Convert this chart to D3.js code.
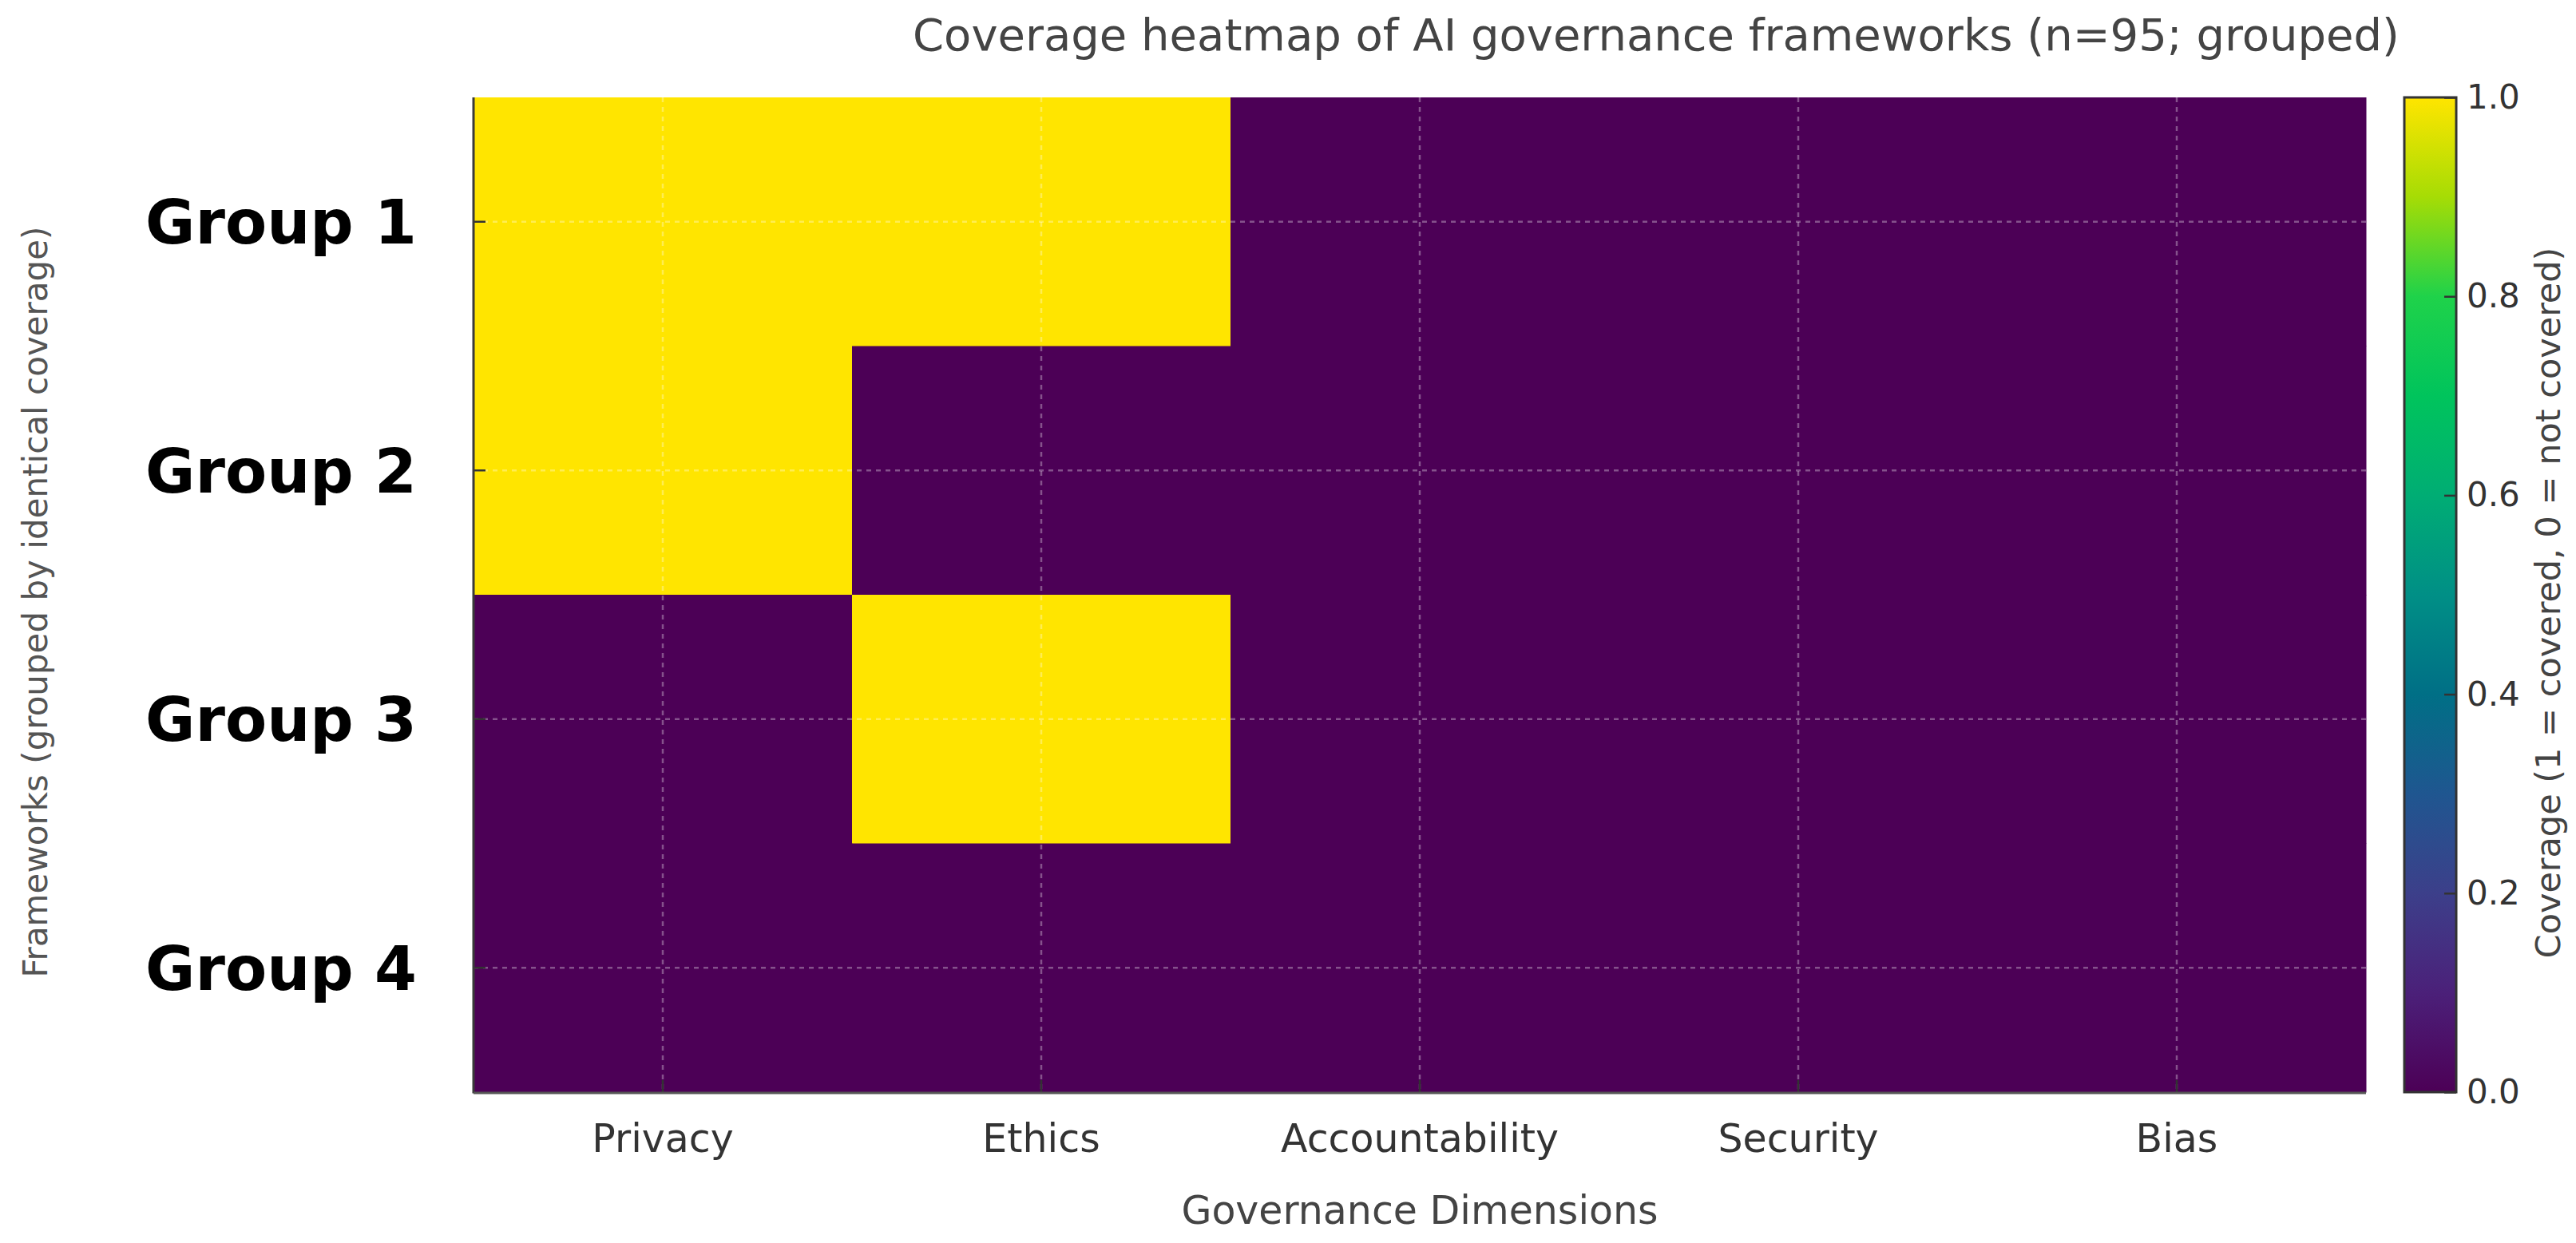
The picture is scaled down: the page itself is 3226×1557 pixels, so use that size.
<!DOCTYPE html>
<html>
<head>
<meta charset="utf-8">
<script src="https://cdn.jsdelivr.net/npm/d3@7"></script>
<style>
  html, body { margin: 0; padding: 0; background: #fff; }
  svg { display: block; font-family: "DejaVu Sans", sans-serif; }
</style>
</head>
<body>
<svg id="chart" width="3226" height="1557"></svg>
<script>
// ---- data ----
const groups = ["Group 1", "Group 2", "Group 3", "Group 4"];
const dimensions = ["Privacy", "Ethics", "Accountability", "Security", "Bias"];
const group1 = [1, 1, 0, 0, 0];
const group2 = [1, 0, 0, 0, 0];
const group3 = [0, 1, 0, 0, 0];
const group4 = [0, 0, 0, 0, 0];
const colorbarTicks = [0.0, 0.2, 0.4, 0.6, 0.8, 1.0];
const titleText = "Coverage heatmap of AI governance frameworks (n=95; grouped)";
const xLabelText = "Governance Dimensions";
const yLabelText = "Frameworks (grouped by identical coverage)";
const cbarLabelText = "Coverage (1 = covered, 0 = not covered)";

const rows = [group1, group2, group3, group4];
const cells = [];
rows.forEach((r, i) => r.forEach((v, j) => cells.push({ g: groups[i], d: dimensions[j], v })));

// ---- styling / layout ----
const W = 3226, H = 1557;
const plot = { left: 593, right: 2963, top: 122, bottom: 1368 };
const cbar = { left: 3011, right: 3076 };

// viridis-like palette as rendered in the reference
const paletteStops = ["#4c0056", "#4b2079", "#3c3f8a", "#1f5690", "#006f86", "#008f86",
                      "#00ad74", "#00c45c", "#1fd24a", "#a6dc05", "#ffe500"];
const color = d3.scaleLinear()
  .domain(paletteStops.map((_, i) => i / (paletteStops.length - 1)))
  .range(paletteStops)
  .interpolate(d3.interpolateRgb);

const svg = d3.select("#chart");
svg.append("rect").attr("width", W).attr("height", H).attr("fill", "#fff");

const x = d3.scaleBand().domain(dimensions).range([plot.left, plot.right]).padding(0);
const y = d3.scaleBand().domain(groups).range([plot.top, plot.bottom]).padding(0);

// cells
svg.append("g").selectAll("rect").data(cells).join("rect")
  .attr("x", d => x(d.d))
  .attr("y", d => y(d.g))
  .attr("width", x.bandwidth() + 0.5)
  .attr("height", y.bandwidth() + 0.5)
  .attr("fill", d => color(d.v));

// gridlines at tick centres
const grid = svg.append("g").attr("stroke", "#ffffff").attr("stroke-opacity", 0.32)
  .attr("stroke-width", 2.5).attr("stroke-dasharray", "6,6");
grid.selectAll("line.v").data(dimensions).join("line").attr("class", "v")
  .attr("x1", d => x(d) + x.bandwidth() / 2).attr("x2", d => x(d) + x.bandwidth() / 2)
  .attr("y1", plot.top).attr("y2", plot.bottom);
grid.selectAll("line.h").data(groups).join("line").attr("class", "h")
  .attr("y1", d => y(d) + y.bandwidth() / 2).attr("y2", d => y(d) + y.bandwidth() / 2)
  .attr("x1", plot.left).attr("x2", plot.right);

// x axis
const xAxis = svg.append("g").attr("transform", `translate(0,${plot.bottom})`)
  .call(d3.axisBottom(x).tickSizeInner(-15).tickSizeOuter(0).tickPadding(40));
xAxis.select(".domain").remove();
xAxis.selectAll(".tick line").attr("stroke", "#333").attr("stroke-width", 2.5);
xAxis.selectAll(".tick text").attr("font-size", 49).attr("fill", "#333")
  .attr("font-family", "DejaVu Sans");

// y axis
const yAxis = svg.append("g").attr("transform", `translate(${plot.left},0)`)
  .call(d3.axisLeft(y).tickSizeInner(-15).tickSizeOuter(0).tickPadding(71));
yAxis.select(".domain").remove();
yAxis.selectAll(".tick line").attr("stroke", "#333").attr("stroke-width", 2.5);
yAxis.selectAll(".tick text").attr("font-size", 76).attr("font-weight", "bold")
  .attr("fill", "#000").attr("dy", "0.36em").attr("font-family", "DejaVu Sans");

// spines
svg.append("line").attr("x1", plot.left).attr("x2", plot.left)
  .attr("y1", plot.top).attr("y2", plot.bottom + 1.5)
  .attr("stroke", "#3a3a3a").attr("stroke-width", 3);
svg.append("line").attr("x1", plot.left).attr("x2", plot.right)
  .attr("y1", plot.bottom + 1).attr("y2", plot.bottom + 1)
  .attr("stroke", "#555").attr("stroke-width", 3);

// colorbar
const cScale = d3.scaleLinear().domain([0, 1]).range([plot.bottom, plot.top]);
const defs = svg.append("defs");
const grad = defs.append("linearGradient").attr("id", "cbarGrad")
  .attr("x1", "0").attr("y1", "1").attr("x2", "0").attr("y2", "0");
grad.selectAll("stop").data(d3.range(0, 1.0001, 0.05)).join("stop")
  .attr("offset", d => d).attr("stop-color", d => color(d));
svg.append("rect")
  .attr("x", cbar.left).attr("y", cScale(1))
  .attr("width", cbar.right - cbar.left).attr("height", cScale(0) - cScale(1))
  .attr("fill", "url(#cbarGrad)")
  .attr("stroke", "#333").attr("stroke-width", 3);
const cAxis = svg.append("g").attr("transform", `translate(${cbar.right},0)`)
  .call(d3.axisRight(cScale).tickValues(colorbarTicks).tickFormat(d3.format(".1f"))
    .tickSizeInner(-15).tickSizeOuter(0).tickPadding(13));
cAxis.select(".domain").remove();
cAxis.selectAll(".tick line").attr("stroke", "#333").attr("stroke-width", 2.5);
cAxis.selectAll(".tick text").attr("font-size", 42).attr("fill", "#333")
  .attr("font-family", "DejaVu Sans");

// title and labels
svg.append("text").attr("x", 2074).attr("y", 63).attr("text-anchor", "middle")
  .attr("font-size", 56).attr("fill", "#444").text(titleText);
svg.append("text").attr("x", (plot.left + plot.right) / 2).attr("y", 1533)
  .attr("text-anchor", "middle").attr("font-size", 49).attr("fill", "#444").text(xLabelText);
svg.append("text").attr("transform", "translate(59,754) rotate(-90)")
  .attr("text-anchor", "middle").attr("font-size", 42).attr("fill", "#555").text(yLabelText);
svg.append("text").attr("transform", "translate(3206,755) rotate(-90)")
  .attr("text-anchor", "middle").attr("font-size", 43).attr("fill", "#444").text(cbarLabelText);
</script>
</body>
</html>
